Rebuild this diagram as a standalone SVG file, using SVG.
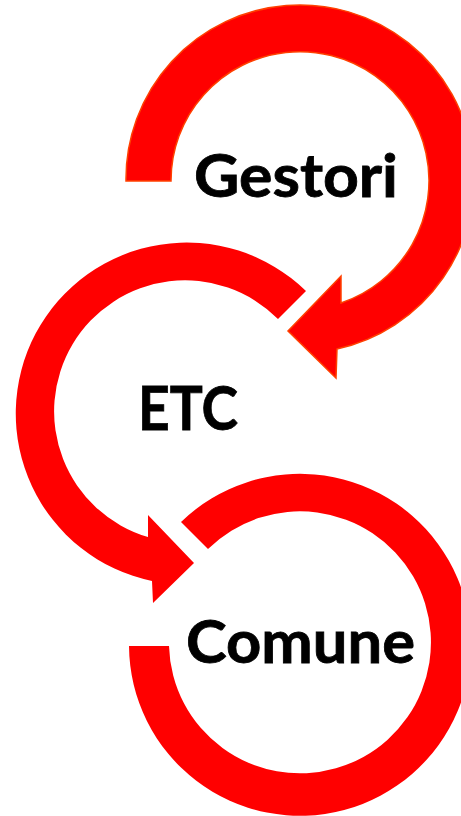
<svg xmlns="http://www.w3.org/2000/svg" width="461" height="816" viewBox="0 0 461 816">
<style>
.arrow{fill:#FF0000;}
.outlined{stroke:#FF4000;stroke-width:1.5;stroke-linejoin:miter;}
.label{font-family:Lato,"Open Sans","Liberation Sans",sans-serif;font-weight:bold;fill:#000000;stroke:#000000;stroke-width:0.8;}
</style>
<rect width="461" height="816" fill="#FFFFFF"/>
<g id="connectors">
<path id="arrow-gestori" class="arrow outlined" d="M 126 181 A 174 174 0 1 1 337 349 L 336 378 L 288 331 L 341 276 L 341 303 A 129 129 0 1 0 171 181 Z"/>
<path id="arrow-etc" class="arrow" d="M 306 291 A 171 171 0 1 0 152 581 L 153 603 L 194 563 L 148 515 L 148 537 A 131 131 0 1 1 278 319 Z"/>
<path id="arrow-comune" class="arrow" d="M 129 646 A 171 171 0 1 0 181 522 L 208 549 A 131 131 0 1 1 169 646 Z"/>
</g>
<g id="node-gestori">
<text class="label" x="194" y="197" font-size="60" textLength="204" lengthAdjust="spacingAndGlyphs">Gestori</text>
</g>
<g id="node-etc">
<text class="label" x="138" y="430" font-size="62" textLength="100" lengthAdjust="spacingAndGlyphs">ETC</text>
</g>
<g id="node-comune">
<text class="label" x="186" y="663" font-size="60" textLength="229" lengthAdjust="spacingAndGlyphs">Comune</text>
</g>
</svg>
